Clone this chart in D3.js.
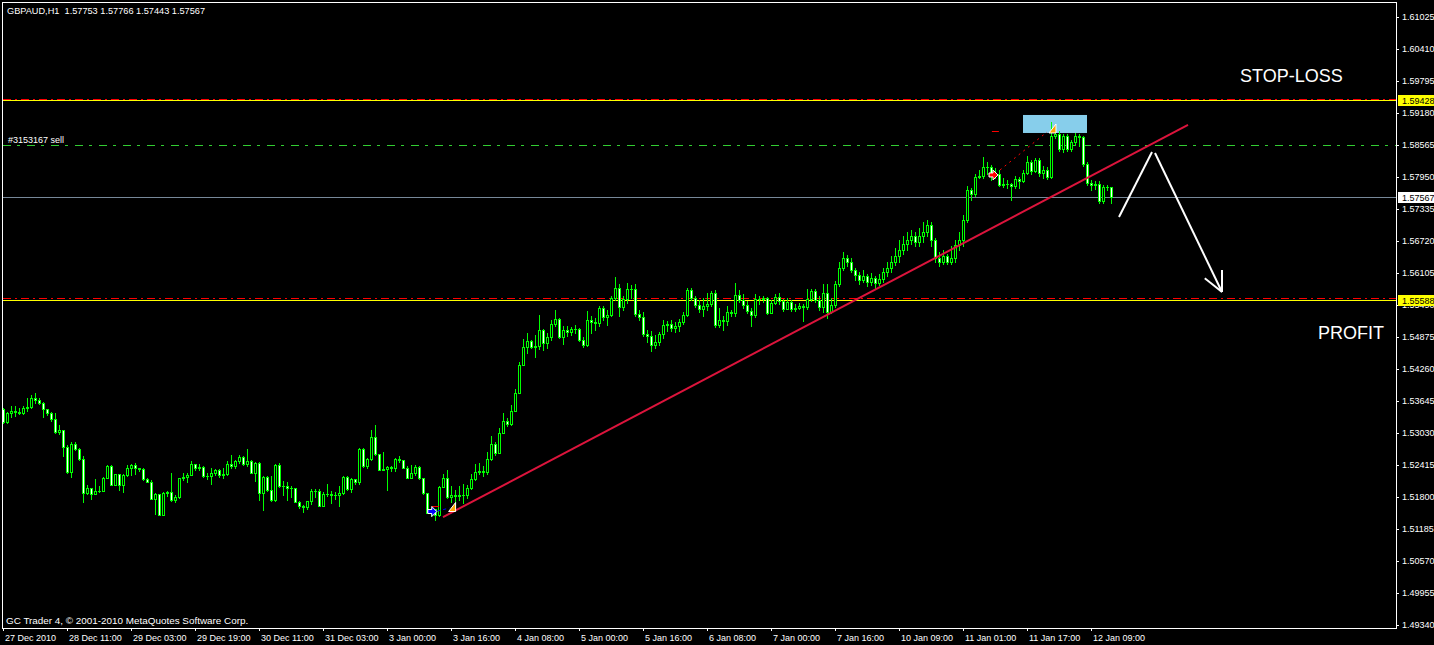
<!DOCTYPE html>
<html><head><meta charset="utf-8">
<script src="https://cdn.jsdelivr.net/npm/d3@7"></script>
<style>
html,body{margin:0;padding:0;background:#000;}
svg{display:block;}
text{font-family:"Liberation Sans",Arial,sans-serif;}
</style></head><body>
<svg id="c" width="1434" height="645"></svg>
<script>
// ---------------- DATA ----------------
const symbolTitle = "GBPAUD,H1  1.57753 1.57766 1.57443 1.57567";
const copyright = "GC Trader 4, \u00A9 2001-2010 MetaQuotes Software Corp.";
const orderLabel = "#3153167 sell";

const timeTickBars = [0,16,32,48,64,80,96,112,128,144,160,176,192,208,224,240,256,272];
const timeLabels = ["27 Dec 2010","28 Dec 11:00","29 Dec 03:00","29 Dec 19:00","30 Dec 11:00","31 Dec 03:00","3 Jan 00:00","3 Jan 16:00","4 Jan 08:00","5 Jan 00:00","5 Jan 16:00","6 Jan 08:00","7 Jan 00:00","7 Jan 16:00","10 Jan 09:00","11 Jan 01:00","11 Jan 17:00","12 Jan 09:00"];
const priceTicks = [1.61025,1.60410,1.59795,1.59180,1.58565,1.57950,1.57335,1.56720,1.56105,1.55490,1.54875,1.54260,1.53645,1.53030,1.52415,1.51800,1.51185,1.50570,1.49955,1.49340];

const open0 = 1.5349;
const closes = [
1.5325,1.5341,1.5346,1.5344,1.5341,1.5352,1.5353,1.5370,1.5366,1.5361,
1.5349,1.5342,1.5329,1.5304,1.5308,1.5277,1.5229,1.5281,1.5273,1.5253,
1.5188,1.5198,1.5186,1.5192,1.5192,1.5217,1.5239,1.5204,1.5224,1.5204,
1.5223,1.5235,1.5241,1.5235,1.5234,1.5214,1.5209,1.5177,1.5185,1.5146,
1.5187,1.5190,1.5174,1.5180,1.5216,1.5218,1.5223,1.5243,1.5236,1.5237,
1.5221,1.5221,1.5227,1.5231,1.5222,1.5225,1.5243,1.5240,1.5249,1.5257,
1.5244,1.5250,1.5227,1.5246,1.5188,1.5218,1.5194,1.5174,1.5241,1.5202,
1.5202,1.5198,1.5198,1.5171,1.5162,1.5161,1.5172,1.5191,1.5191,1.5163,
1.5186,1.5186,1.5184,1.5183,1.5187,1.5218,1.5195,1.5214,1.5209,1.5273,
1.5239,1.5253,1.5295,1.5262,1.5232,1.5233,1.5237,1.5235,1.5253,1.5251,
1.5236,1.5217,1.5226,1.5237,1.5216,1.5187,1.5150,1.5157,1.5146,1.5200,
1.5216,1.51800,1.51838,1.51819,1.51838,1.51838,1.51973,1.52146,1.52280,1.52299,
1.52280,1.52530,1.52818,1.52645,1.53030,1.53261,1.53203,1.53453,1.53799,1.54336,
1.54683,1.54798,1.54683,1.54702,1.55009,1.54759,1.54875,1.55125,1.55221,1.54875,
1.55009,1.54971,1.55028,1.55028,1.54817,1.54721,1.55202,1.55163,1.55144,1.55432,
1.55259,1.55297,1.55625,1.55817,1.55451,1.55605,1.55798,1.55798,1.55317,1.55259,
1.54932,1.54894,1.54721,1.54779,1.54932,1.55105,1.55125,1.55048,1.55086,1.55163,
1.55297,1.55778,1.55625,1.55490,1.55413,1.55471,1.55509,1.55721,1.55105,1.55202,
1.55182,1.55355,1.55336,1.55682,1.55586,1.55490,1.55374,1.55297,1.55605,1.55605,
1.55625,1.55336,1.55528,1.55644,1.55567,1.55413,1.55548,1.55413,1.55432,1.55471,
1.55451,1.55605,1.55759,1.55586,1.55451,1.55721,1.55355,1.55490,1.55894,1.56201,
1.56393,1.56316,1.56163,1.56067,1.55970,1.56047,1.55932,1.56009,1.55913,1.55990,
1.56124,1.56201,1.56316,1.56432,1.56547,1.56662,1.56739,1.56816,1.56701,1.56816,
1.56893,1.57028,1.56739,1.56393,1.56316,1.56432,1.56316,1.56393,1.56643,1.56739,
1.57124,1.57700,1.57623,1.57950,1.57969,1.58142,1.58142,1.57989,1.58008,1.57796,
1.57816,1.57816,1.57777,1.57912,1.57873,1.58027,1.58238,1.58065,1.58277,1.58027,
1.58085,1.57950,1.58738,1.58777,1.58488,1.58738,1.58488,1.58623,1.58738,1.58719,
1.58200,1.57835,1.57796,1.57816,1.57489,1.57758,1.57753,1.57567];
const highs = [
1.5352,1.5343,1.5354,1.5354,1.5352,1.5355,1.5370,1.5376,1.5379,1.5371,
1.5362,1.5350,1.5344,1.5341,1.5318,1.5309,1.5279,1.5286,1.5285,1.5275,
1.5259,1.5203,1.5198,1.5214,1.5201,1.5218,1.5241,1.5241,1.5225,1.5225,
1.5225,1.5241,1.5244,1.5245,1.5236,1.5236,1.5217,1.5212,1.5187,1.5186,
1.5189,1.5191,1.5227,1.5184,1.5217,1.5227,1.5227,1.5250,1.5244,1.5244,
1.5239,1.5227,1.5235,1.5234,1.5234,1.5235,1.5249,1.5261,1.5252,1.5261,
1.5259,1.5272,1.5252,1.5248,1.5248,1.5221,1.5221,1.5221,1.5244,1.5246,
1.5211,1.5209,1.5202,1.5198,1.5173,1.5164,1.5173,1.5196,1.5195,1.5195,
1.5190,1.5205,1.5191,1.5189,1.5201,1.5221,1.5221,1.5216,1.5213,1.5275,
1.5275,1.5254,1.5309,1.5318,1.5263,1.5266,1.5239,1.5239,1.5254,1.5258,
1.5251,1.5239,1.5241,1.5241,1.5239,1.5217,1.5188,1.5159,1.5154,1.5201,
1.5225,1.52319,1.52011,1.51934,1.52011,1.52049,1.52030,1.52242,1.52434,1.52453,
1.52396,1.52665,1.52972,1.52857,1.53126,1.53414,1.53318,1.53568,1.53875,1.54394,
1.54836,1.54952,1.54817,1.54913,1.55297,1.55028,1.54952,1.55202,1.55394,1.55240,
1.55086,1.55086,1.55067,1.55105,1.55048,1.54875,1.55374,1.55278,1.55240,1.55471,
1.55471,1.55394,1.55663,1.56028,1.55894,1.55663,1.55913,1.55874,1.55894,1.55394,
1.55355,1.55009,1.54990,1.54913,1.54971,1.55202,1.55182,1.55202,1.55163,1.55221,
1.55355,1.55817,1.55817,1.55663,1.55586,1.55625,1.55721,1.55759,1.55778,1.55432,
1.55278,1.55471,1.55394,1.55913,1.55778,1.55702,1.55567,1.55432,1.55702,1.55663,
1.55663,1.55644,1.55586,1.55702,1.55721,1.55605,1.55625,1.55586,1.55509,1.55528,
1.55509,1.55798,1.55798,1.55798,1.55663,1.55894,1.55894,1.55625,1.55951,1.56316,
1.56509,1.56451,1.56393,1.56201,1.56124,1.56163,1.56086,1.56105,1.56047,1.56086,
1.56201,1.56316,1.56432,1.56585,1.56739,1.56816,1.56893,1.56931,1.56893,1.56970,
1.57085,1.57124,1.57085,1.56778,1.56509,1.56547,1.56470,1.56624,1.56739,1.56893,
1.57220,1.57777,1.57739,1.58008,1.58085,1.58335,1.58238,1.58181,1.58123,1.58085,
1.57931,1.57892,1.57835,1.57969,1.57950,1.58085,1.58354,1.58277,1.58315,1.58315,
1.58162,1.58142,1.59007,1.58930,1.58834,1.58777,1.58777,1.58661,1.58796,1.58777,
1.58738,1.58238,1.57892,1.57873,1.57873,1.57796,1.57796,1.57766];
const lows = [
1.5323,1.5323,1.5333,1.5336,1.5339,1.5339,1.5346,1.5352,1.5360,1.5358,
1.5334,1.5338,1.5326,1.5303,1.5302,1.5259,1.5227,1.5219,1.5271,1.5251,
1.5171,1.5185,1.5177,1.5185,1.5190,1.5191,1.5216,1.5203,1.5203,1.5193,
1.5189,1.5221,1.5223,1.5225,1.5230,1.5212,1.5208,1.5176,1.5148,1.5145,
1.5145,1.5182,1.5173,1.5171,1.5178,1.5212,1.5209,1.5222,1.5232,1.5231,
1.5219,1.5214,1.5205,1.5223,1.5218,1.5217,1.5222,1.5235,1.5235,1.5245,
1.5241,1.5240,1.5226,1.5211,1.5174,1.5155,1.5192,1.5173,1.5172,1.5200,
1.5184,1.5175,1.5180,1.5170,1.5159,1.5152,1.5157,1.5166,1.5180,1.5162,
1.5162,1.5181,1.5168,1.5177,1.5162,1.5185,1.5194,1.5190,1.5205,1.5205,
1.5237,1.5235,1.5251,1.5260,1.5231,1.5231,1.5194,1.5230,1.5230,1.5248,
1.5235,1.5216,1.5216,1.5223,1.5214,1.5186,1.5149,1.5143,1.5135,1.5144,
1.5199,1.51780,1.51704,1.51607,1.51742,1.51684,1.51780,1.51953,1.52126,1.52242,
1.52203,1.52242,1.52511,1.52607,1.52645,1.53030,1.53164,1.53184,1.53453,1.53799,
1.54336,1.54567,1.54663,1.54491,1.54644,1.54625,1.54663,1.54817,1.55086,1.54856,
1.54740,1.54894,1.54913,1.54952,1.54798,1.54683,1.54702,1.54952,1.55009,1.55086,
1.55202,1.55105,1.55278,1.55586,1.55278,1.55394,1.55528,1.55625,1.55278,1.55202,
1.54894,1.54779,1.54606,1.54663,1.54721,1.54856,1.54990,1.54990,1.54971,1.54990,
1.55125,1.55278,1.55586,1.55451,1.55355,1.55278,1.55394,1.55471,1.55067,1.55067,
1.55009,1.55105,1.55278,1.55278,1.55548,1.55432,1.55336,1.55086,1.55259,1.55509,
1.55548,1.55317,1.55336,1.55509,1.55509,1.55374,1.55413,1.55374,1.55374,1.55413,
1.55182,1.55413,1.55567,1.55548,1.55394,1.55355,1.55240,1.55336,1.55451,1.55855,
1.56163,1.56240,1.56124,1.55970,1.55894,1.55932,1.55855,1.55874,1.55817,1.55874,
1.55932,1.56047,1.56124,1.56259,1.56316,1.56470,1.56547,1.56662,1.56624,1.56624,
1.56701,1.56816,1.56624,1.56316,1.56240,1.56278,1.56278,1.56278,1.56316,1.56547,
1.56624,1.57085,1.57508,1.57585,1.57931,1.57931,1.58008,1.57892,1.57931,1.57777,
1.57758,1.57739,1.57508,1.57739,1.57739,1.57854,1.58008,1.58008,1.58046,1.57969,
1.57931,1.57912,1.57931,1.58700,1.58450,1.58431,1.58450,1.58450,1.58565,1.58546,
1.58162,1.57796,1.57700,1.57719,1.57450,1.57450,1.57700,1.57443];

// order / level values
const bidPrice = 1.57567;
const orderOpenPrice = 1.58565;
const orderSL = 1.5945;
const orderTP = 1.5562;
const hlinePrices = [1.59428, 1.55588];
// trendline (bar index, price)
const trendStart = [110, 1.51415];
const trendEnd = [296.25, 1.58950];
// blue rectangle (bars, prices)
const rectBars = [255, 271];
const rectPrices = [1.59142, 1.58796];
// hand-drawn white arrow (bar index, price)
const arrowLeg1 = [[279, 1.57181],[287.25, 1.58431]];
const arrowLeg2 = [[288, 1.58411],[304.75, 1.55740]];
// trade markers (bar, price)
const buyArrowMark = [107.2, 1.51521];
const closeTri1 = [112.4, 1.51598];
const sellArrowMark = [247.5, 1.57989];
const closeTri2 = [262.5, 1.58873];
const slDash1 = [108.1, 1.51627];
const slDash2 = [248.1, 1.58834];
const tradeLine1 = [[108.6, 1.51530],[111.6, 1.51588]];
const tradeLine2 = [[249.25, 1.58085],[261, 1.58815]];

// ---------------- DRAW ----------------
const W = 1434, H = 645;
const L = 3, R = 1396, T = 3, B = 628;
const svg = d3.select('#c');
svg.append('rect').attr('width', W).attr('height', H).attr('fill', '#000');

const x = d3.scaleLinear().domain([0, 1]).range([3, 7]);
const y = d3.scaleLinear().domain([1.49340, 1.61025]).range([625, 17]);
const py = v => Math.round(y(v)) + 0.5;

svg.append('defs').append('clipPath').attr('id', 'clip')
  .append('rect').attr('x', L).attr('y', T).attr('width', R - L).attr('height', B - T);
const plot = svg.append('g').attr('clip-path', 'url(#clip)');

// blue rectangle (background)
plot.append('rect')
  .attr('x', x(rectBars[0])).attr('y', y(rectPrices[0]))
  .attr('width', x(rectBars[1]) - x(rectBars[0]))
  .attr('height', y(rectPrices[1]) - y(rectPrices[0]))
  .attr('fill', '#87CEEB');

// horizontal levels
hlinePrices.forEach(p => {
  plot.append('line').attr('x1', L).attr('x2', R).attr('y1', py(p)).attr('y2', py(p))
    .attr('stroke', '#FFFF00').attr('stroke-width', 1);
});
[orderSL, orderTP].forEach(p => {
  plot.append('line').attr('x1', L).attr('x2', R).attr('y1', py(p)).attr('y2', py(p))
    .attr('stroke', '#FF0000').attr('stroke-width', 1).attr('stroke-dasharray', '8,4,2,4');
});
plot.append('line').attr('x1', L).attr('x2', R).attr('y1', py(orderOpenPrice)).attr('y2', py(orderOpenPrice))
  .attr('stroke', '#32CD32').attr('stroke-width', 1).attr('stroke-dasharray', '8,6,3,7');
plot.append('line').attr('x1', L).attr('x2', R).attr('y1', py(bidPrice)).attr('y2', py(bidPrice))
  .attr('stroke', '#778899').attr('stroke-width', 1);

// candles
const bars = closes.map((c, i) => {
  const o = i === 0 ? open0 : closes[i - 1];
  return { i, o, c, h: Math.max(highs[i], o, c), l: Math.min(lows[i], o, c) };
});
const cg = plot.append('g');
bars.forEach(d => {
  const xc = Math.round(x(d.i));
  const yh = Math.round(y(d.h)), yl = Math.round(y(d.l));
  cg.append('line').attr('x1', xc + 0.5).attr('x2', xc + 0.5).attr('y1', yh).attr('y2', yl + 1)
    .attr('stroke', '#00FF00').attr('stroke-width', 1);
  const yt = Math.round(y(Math.max(d.o, d.c))), yb = Math.round(y(Math.min(d.o, d.c)));
  if (yb - yt < 1) {
    cg.append('line').attr('x1', xc - 1).attr('x2', xc + 2).attr('y1', yt + 0.5).attr('y2', yt + 0.5)
      .attr('stroke', '#00FF00').attr('stroke-width', 1);
  } else {
    cg.append('rect').attr('x', xc - 0.5).attr('y', yt + 0.5).attr('width', 2).attr('height', yb - yt)
      .attr('fill', d.c >= d.o ? '#000000' : '#FFFFFF')
      .attr('stroke', '#00FF00').attr('stroke-width', 1);
  }
});

// trendline
plot.append('line')
  .attr('x1', x(trendStart[0])).attr('y1', y(trendStart[1]))
  .attr('x2', x(trendEnd[0])).attr('y2', y(trendEnd[1]))
  .attr('stroke', '#DC143C').attr('stroke-width', 2);

// trade lines
plot.append('line').attr('x1', x(tradeLine1[0][0])).attr('y1', y(tradeLine1[0][1]))
  .attr('x2', x(tradeLine1[1][0])).attr('y2', y(tradeLine1[1][1]))
  .attr('stroke', '#0000FF').attr('stroke-width', 1).attr('stroke-dasharray', '3,3');
plot.append('line').attr('x1', x(tradeLine2[0][0])).attr('y1', y(tradeLine2[0][1]))
  .attr('x2', x(tradeLine2[1][0])).attr('y2', y(tradeLine2[1][1]))
  .attr('stroke', '#FF0000').attr('stroke-width', 1).attr('stroke-dasharray', '2,4');

// sl dashes
[slDash1, slDash2].forEach(m => {
  plot.append('line').attr('x1', x(m[0]) - 3.5).attr('x2', x(m[0]) + 3.5)
    .attr('y1', py(m[1])).attr('y2', py(m[1])).attr('stroke', '#FF0000').attr('stroke-width', 1);
});

// arrows markers
function arrowMark(m, color) {
  const cx = x(m[0]), cy = y(m[1]);
  const pts = [[-4,-2],[0,-2],[0,-5],[5,0],[0,5],[0,2],[-4,2]].map(p => [cx + p[0], cy + p[1]]);
  plot.append('polygon').attr('points', pts.map(p => p.join(',')).join(' '))
    .attr('fill', color).attr('stroke', '#FFFFFF').attr('stroke-width', 1);
}
function triMark(m) {
  const cx = x(m[0]), cy = y(m[1]);
  const pts = [[3,-5],[3,4],[-4,4]].map(p => [cx + p[0], cy + p[1]]);
  plot.append('polygon').attr('points', pts.map(p => p.join(',')).join(' '))
    .attr('fill', '#FFA500').attr('stroke', '#FFFFFF').attr('stroke-width', 1);
}
arrowMark(buyArrowMark, '#0000FF');
triMark(closeTri1);
arrowMark(sellArrowMark, '#FF0000');
triMark(closeTri2);

// white hand-drawn arrow
const ag = svg.append('g').attr('stroke', '#FFFFFF').attr('stroke-width', 2).attr('fill', 'none');
[arrowLeg1, arrowLeg2].forEach(seg => {
  ag.append('line').attr('x1', x(seg[0][0])).attr('y1', y(seg[0][1]))
    .attr('x2', x(seg[1][0])).attr('y2', y(seg[1][1]));
});
{
  const x1 = x(arrowLeg2[0][0]), y1 = y(arrowLeg2[0][1]);
  const x2 = x(arrowLeg2[1][0]), y2 = y(arrowLeg2[1][1]);
  const a = Math.atan2(y1 - y2, x1 - x2), len = 22, sp = 0.45;
  [a - sp, a + sp].forEach(t => {
    ag.append('line').attr('x1', x2).attr('y1', y2)
      .attr('x2', x2 + len * Math.cos(t)).attr('y2', y2 + len * Math.sin(t));
  });
}

// frame
const fr = svg.append('g').attr('stroke', '#FFFFFF').attr('stroke-width', 1);
fr.append('line').attr('x1', 2.5).attr('x2', 2.5).attr('y1', 2).attr('y2', B + 1);
fr.append('line').attr('x1', 2).attr('x2', R + 1).attr('y1', 2.5).attr('y2', 2.5);

// right axis
const yAxis = d3.axisRight(y).tickValues(priceTicks).tickFormat(d3.format('.5f')).tickSize(3).tickPadding(3);
const ya = svg.append('g').attr('transform', `translate(${R},0)`).call(yAxis);
ya.select('.domain').remove();
ya.selectAll('line').attr('stroke', '#FFFFFF');
ya.selectAll('text').attr('fill', '#FFFFFF').style('font-size', '9px').attr('font-family', 'Liberation Sans, Arial, sans-serif');
fr.append('line').attr('x1', R + 0.5).attr('x2', R + 0.5).attr('y1', 2).attr('y2', B + 1);

// bottom axis
const xAxis = d3.axisBottom(x).tickValues(timeTickBars).tickFormat((d, i) => timeLabels[i]).tickSize(3);
const xa = svg.append('g').attr('transform', `translate(0,${B})`).call(xAxis);
xa.select('.domain').remove();
xa.selectAll('line').attr('stroke', '#FFFFFF');
xa.selectAll('text').attr('fill', '#FFFFFF').attr('text-anchor', 'start').attr('dy', null)
  .attr('x', 1.5).attr('y', 13).style('font-size', '9px').attr('font-family', 'Liberation Sans, Arial, sans-serif');
fr.append('line').attr('x1', 2).attr('x2', R + 1).attr('y1', B + 0.5).attr('y2', B + 0.5);

// price label boxes
function priceBox(p, bg) {
  const yy = Math.round(y(p));
  svg.append('rect').attr('x', 1398).attr('y', yy - 5).attr('width', 36).attr('height', 11).attr('fill', bg);
  svg.append('text').attr('x', 1402).attr('y', yy + 4).attr('fill', '#000').style('font-size', '9px')
    .text(d3.format('.5f')(p));
}
hlinePrices.forEach(p => priceBox(p, '#FFFF00'));
priceBox(bidPrice, '#FFFFFF');

// texts
svg.append('text').attr('x', 7).attr('y', 14).attr('fill', '#FFF').style('font-size', '9.2px')
  .style('white-space', 'pre').text(symbolTitle);
svg.append('text').attr('x', 6).attr('y', 623.5).attr('fill', '#FFF').style('font-size', '9.9px').text(copyright);
svg.append('text').attr('x', 8).attr('y', 142.5).attr('fill', '#FFF').style('font-size', '9px').text(orderLabel);
svg.append('text').attr('x', 1240).attr('y', 82).attr('fill', '#FFF').style('font-size', '18px').text('STOP-LOSS');
svg.append('text').attr('x', 1318).attr('y', 339).attr('fill', '#FFF').style('font-size', '18px').text('PROFIT');
</script>
</body></html>
